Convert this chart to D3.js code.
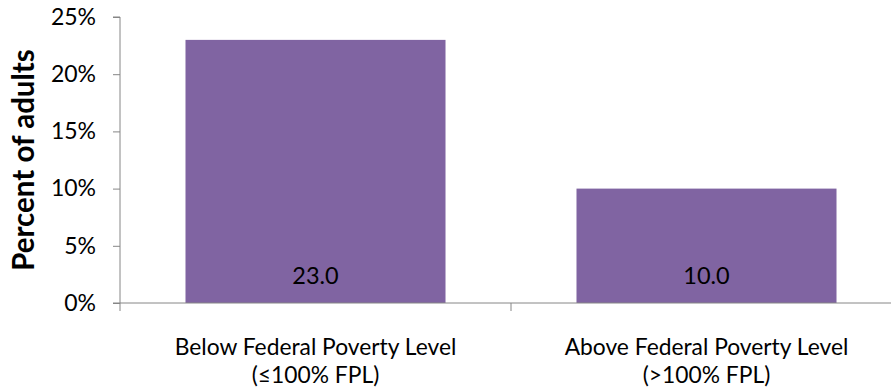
<!DOCTYPE html>
<html><head><meta charset="utf-8">
<script src="https://cdn.jsdelivr.net/npm/d3@7"></script>
<style>body{margin:0;background:#fff}svg{display:block}</style>
</head><body>
<svg id="c" width="891" height="387"></svg>
<script>
const categories = [["Below Federal Poverty Level","(≤100% FPL)"],["Above Federal Poverty Level","(>100% FPL)"]];
const values = [23.0, 10.0];
const yTicks = [0, 5, 10, 15, 20, 25];
const yTitle = "Percent of adults";

const font = "Lato, 'Open Sans', sans-serif";
const svg = d3.select("#c");
const m = {left:120, top:17, bottom:303, right:902};
const x = d3.scaleBand().domain(d3.range(categories.length)).range([m.left, m.right]).paddingInner(0.335).paddingOuter(0.1675);
const y = d3.scaleLinear().domain([0,25]).range([m.bottom, m.top]);
const axisColor = "#868686";

svg.selectAll("rect.bar").data(values).join("rect").attr("class","bar")
  .attr("x",(d,i)=>x(i)).attr("width",x.bandwidth())
  .attr("y",d=>y(d)).attr("height",d=>y(0)-y(d)).attr("fill","#8064A2");

svg.selectAll("text.val").data(values).join("text").attr("class","val")
  .attr("x",(d,i)=>x(i)+x.bandwidth()/2).attr("y",y(0)-19)
  .attr("text-anchor","middle").attr("font-family",font).attr("font-size",23.5).attr("fill","#000")
  .text(d=>d.toFixed(1));

// y axis
const ya = svg.append("g").attr("transform",`translate(${m.left},0)`)
  .call(d3.axisLeft(y).tickValues(yTicks).tickSize(7).tickPadding(17).tickFormat(d=>d+"%"));
ya.select(".domain").attr("stroke",axisColor).attr("d",`M-7,${m.top}H0V${m.bottom}`);
ya.selectAll(".tick line").attr("stroke",axisColor);
ya.selectAll(".tick text").attr("font-family",font).attr("font-size",23).attr("fill","#000");

// x axis
const xa = svg.append("g").attr("transform",`translate(0,${m.bottom})`);
xa.append("line").attr("x1",m.left-7).attr("x2",m.right).attr("stroke",axisColor);
const bounds = d3.range(categories.length+1).map(i=>m.left + i*(m.right-m.left)/categories.length);
xa.selectAll("line.t").data(bounds).join("line").attr("class","t")
  .attr("x1",d=>d).attr("x2",d=>d).attr("y1",0).attr("y2",8).attr("stroke",axisColor);

svg.selectAll("g.cat").data(categories).join("g").attr("class","cat")
  .each(function(d,i){
    d3.select(this).selectAll("text").data(d).join("text")
      .attr("x",x(i)+x.bandwidth()/2).attr("y",(s,j)=>355+j*27.5)
      .attr("text-anchor","middle").attr("font-family",font).attr("font-size",22.8).attr("fill","#000")
      .text(s=>s);
  });

svg.append("text").attr("transform",`translate(34,${(m.top+m.bottom)/2}) rotate(-90)`)
  .attr("text-anchor","middle").attr("font-family",font).attr("font-size",29.5).attr("font-weight","bold")
  .attr("fill","#000").text(yTitle);
</script>
</body></html>
